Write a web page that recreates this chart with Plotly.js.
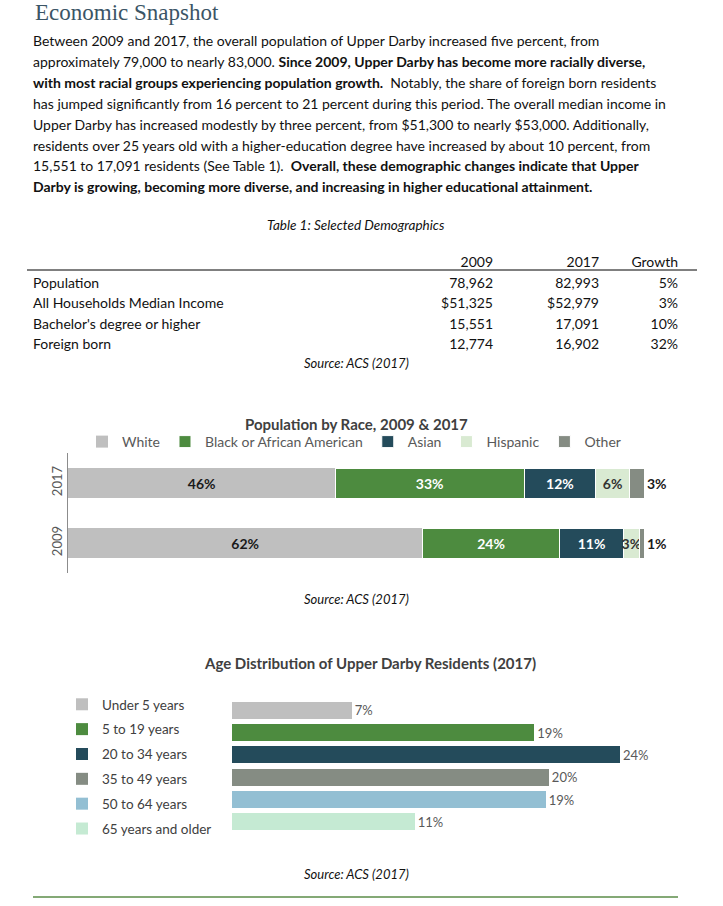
<!DOCTYPE html>
<html><head><meta charset="utf-8">
<script src="https://cdn.plot.ly/plotly-3.0.1.min.js"></script>
<style>
html,body{margin:0;padding:0;background:#fff;width:723px;height:906px;overflow:hidden}
#chart{position:absolute;left:0;top:0;width:723px;height:906px}
#para{position:absolute;left:33px;top:31px;font-family:Lato,'Open Sans',sans-serif;font-size:14px;line-height:20.9px;color:#111;white-space:nowrap;z-index:2}
#para b{font-weight:700}
</style></head><body>
<div id="chart"></div>
<div id="para"></div>
<script>
// ---------- text ----------
const pageTitle = 'Economic Snapshot';
const paragraphLines = [
  'Between 2009 and 2017, the overall population of Upper Darby increased five percent, from',
  'approximately 79,000 to nearly 83,000. <b>Since 2009, Upper Darby has become more racially diverse,</b>',
  '<b>with most racial groups experiencing population growth.</b>&nbsp; Notably, the share of foreign born residents',
  'has jumped significantly from 16 percent to 21 percent during this period. The overall median income in',
  'Upper Darby has increased modestly by three percent, from $51,300 to nearly $53,000. Additionally,',
  'residents over 25 years old with a higher-education degree have increased by about 10 percent, from',
  '15,551 to 17,091 residents (See Table 1).&nbsp; <b>Overall, these demographic changes indicate that Upper</b>',
  '<b>Darby is growing, becoming more diverse, and increasing in higher educational attainment.</b>'
];
const tableCaption = 'Table 1: Selected Demographics';
const sourceText = 'Source: ACS (2017)';

// ---------- table ----------
const tableHeader = ['', '2009', '2017', 'Growth'];
const tableRows = ['Population', 'All Households Median Income', "Bachelor's degree or higher", 'Foreign born'];
const values2009 = ['78,962', '$51,325', '15,551', '12,774'];
const values2017 = ['82,993', '$52,979', '17,091', '16,902'];
const growth = ['5%', '3%', '10%', '32%'];

// ---------- race chart ----------
const raceTitle = 'Population by Race, 2009 & 2017';
const raceYears = ['2009', '2017'];
const raceGroups = ['White', 'Black or African American', 'Asian', 'Hispanic', 'Other'];
const white    = [61.5, 46.4];
const black    = [23.9, 32.8];
const asian    = [11.0, 12.4];
const hispanic = [2.8, 5.9];
const other    = [0.8, 2.5];

// ---------- age chart ----------
const ageTitle = 'Age Distribution of Upper Darby Residents (2017)';
const ageGroups = ['Under 5 years', '5 to 19 years', '20 to 34 years', '35 to 49 years', '50 to 64 years', '65 years and older'];
const ageShares = [7.4, 18.7, 24.0, 19.6, 19.4, 11.3];
const ageLabels = ['7%', '19%', '24%', '20%', '19%', '11%'];

// ---------- styling ----------
const W = 723, H = 906;
const px = x => x / W;
const py = y => 1 - y / H;
const FONT = 'Lato, "Open Sans", sans-serif';
const raceColors = ['#bfbfbf', '#4d8b3f', '#244b5b', '#d9ead2', '#858c83'];
const raceTextColors = ['#1a1a1a', '#ffffff', '#ffffff', '#333333', '#1a1a1a'];
const ageColors = ['#bfbfbf', '#4d8b3f', '#244b5b', '#858c83', '#93bfd3', '#c5ead3'];

document.getElementById('para').innerHTML = paragraphLines.join('<br>');

const traces = [];

// table
traces.push({
  type: 'table',
  domain: {x: [px(25), px(686)], y: [py(358), py(248.5)]},
  columnwidth: [370, 106, 106, 79],
  header: {
    values: tableHeader,
    align: ['left', 'right', 'right', 'right'],
    height: 20.5,
    font: {family: FONT, size: 14, color: '#111'},
    fill: {color: 'rgba(0,0,0,0)'},
    line: {width: 0, color: 'rgba(0,0,0,0)'}
  },
  cells: {
    values: [tableRows, values2009, values2017, growth],
    align: ['left', 'right', 'right', 'right'],
    height: 20.6,
    font: {family: FONT, size: 14, color: '#111'},
    fill: {color: 'rgba(0,0,0,0)'},
    line: {width: 0, color: 'rgba(0,0,0,0)'}
  }
});

// race chart
const raceSeries = [white, black, asian, hispanic, other];
raceSeries.forEach((vals, i) => {
  traces.push({
    type: 'bar', orientation: 'h',
    name: raceGroups[i],
    x: vals, y: raceYears,
    xaxis: 'x', yaxis: 'y', legend: 'legend',
    width: 0.5,
    marker: {color: raceColors[i], line: {color: '#ffffff', width: i === 0 ? 0 : 1}},
    texttemplate: '%{x:.0f}%',
    textposition: i === raceSeries.length - 1 ? 'outside' : 'inside',
    insidetextanchor: 'middle',
    textangle: 0,
    constraintext: 'none',
    cliponaxis: false,
    textfont: {family: FONT, size: 14, weight: 700, color: raceTextColors[i]},
    hoverinfo: 'skip'
  });
});

// age chart
ageGroups.forEach((g, i) => {
  traces.push({
    type: 'bar', orientation: 'h',
    name: g,
    x: [ageShares[i]], y: [g],
    xaxis: 'x2', yaxis: 'y2', legend: 'legend2', legendgroup: g,
    width: 0.77,
    marker: {color: ageColors[i]},
    text: [ageLabels[i]],
    textposition: 'outside',
    textangle: 0,
    constraintext: 'none',
    cliponaxis: false,
    textfont: {family: FONT, size: 13, color: '#595959'},
    hoverinfo: 'skip'
  });
});

const ann = (text, x, y, opts) => Object.assign({
  text, x: px(x), y: py(y), xref: 'paper', yref: 'paper',
  showarrow: false, xanchor: 'center', yanchor: 'middle',
  font: {family: FONT, size: 12.5, color: '#111'}
}, opts || {});

const layout = {
  width: W, height: H,
  margin: {l: 0, r: 0, t: 0, b: 0},
  paper_bgcolor: '#ffffff', plot_bgcolor: 'rgba(0,0,0,0)',
  showlegend: true,
  barmode: 'stack',
  hovermode: false,
  font: {family: FONT},
  xaxis: {domain: [px(68), px(644)], range: [0, 100], visible: false, fixedrange: true},
  yaxis: {
    domain: [py(573), py(453)], type: 'category', categoryorder: 'array', categoryarray: raceYears,
    showline: true, linecolor: '#8c8c8c', linewidth: 1, ticks: '', showgrid: false, zeroline: false,
    tickangle: -90, tickfont: {family: FONT, size: 13, color: '#595959'}, fixedrange: true
  },
  xaxis2: {domain: [px(232), px(717)], range: [0, 30], visible: false, fixedrange: true, anchor: 'y2'},
  yaxis2: {
    domain: [py(833), py(699)], type: 'category', categoryorder: 'array', categoryarray: ageGroups,
    autorange: 'reversed', visible: false, fixedrange: true, anchor: 'x2'
  },
  legend: {
    orientation: 'h', x: px(354), xanchor: 'center', y: py(442), yanchor: 'middle',
    font: {family: FONT, size: 14, color: '#595959'}, bgcolor: 'rgba(0,0,0,0)', traceorder: 'normal'
  },
  legend2: {
    orientation: 'v', x: px(62), xanchor: 'left', y: py(689), yanchor: 'top',
    font: {family: FONT, size: 13.5, color: '#404040'}, bgcolor: 'rgba(0,0,0,0)',
    tracegroupgap: 4.3, traceorder: 'grouped'
  },
  shapes: [
    {type: 'line', xref: 'paper', yref: 'paper', x0: px(27), x1: px(697), y0: py(270), y1: py(270), line: {color: '#000', width: 1}},
    {type: 'line', xref: 'paper', yref: 'paper', x0: px(33), x1: px(678), y0: py(897), y1: py(897), line: {color: '#5b8c48', width: 1.5}}
  ],
  annotations: [
    ann(pageTitle, 33, 13, {xanchor: 'left', font: {family: '"Liberation Serif", "DejaVu Serif", serif', size: 23, color: '#3b5566'}}),
    ann(tableCaption, 356, 225, {font: {family: FONT, size: 13.5, style: 'italic', color: '#111'}}),
    ann(sourceText, 356, 363, {font: {family: FONT, size: 13, style: 'italic', color: '#111'}}),
    ann(raceTitle, 356, 424, {font: {family: FONT, size: 15, weight: 700, color: '#404040'}}),
    ann(sourceText, 356, 599, {font: {family: FONT, size: 13, style: 'italic', color: '#111'}}),
    ann(ageTitle, 370, 663, {font: {family: FONT, size: 15, weight: 700, color: '#404040'}}),
    ann(sourceText, 356, 874, {font: {family: FONT, size: 13, style: 'italic', color: '#111'}})
  ]
};

Plotly.newPlot('chart', traces, layout, {staticPlot: true, displayModeBar: false});
</script>
</body></html>
